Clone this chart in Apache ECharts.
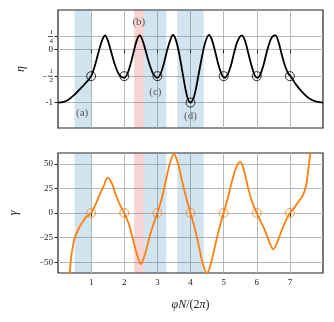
<!DOCTYPE html>
<html>
<head>
<meta charset="UTF-8">
<title>eta / gamma</title>
<script src="https://cdn.jsdelivr.net/npm/echarts@6/dist/echarts.min.js"></script>
<style>
  html, body { margin: 0; padding: 0; background: #fff; }
  #main { width: 334px; height: 322px; }
</style>
</head>
<body>
<div id="main"></div>
<script>
// eta curve (top panel)
var etaX = [0, 0.15, 0.3, 0.5, 0.7, 0.85, 1.0, 1.1, 1.2, 1.3, 1.36, 1.42, 1.5, 1.6, 1.7, 1.8, 1.9, 2.0,
  2.1, 2.2, 2.3, 2.38, 2.46, 2.55, 2.65, 2.75, 2.85, 2.95, 3.0,
  3.1, 3.2, 3.3, 3.4, 3.47, 3.55, 3.65, 3.75, 3.85, 3.93, 4.0,
  4.07, 4.15, 4.25, 4.35, 4.45, 4.56, 4.65, 4.75, 4.85, 4.95, 5.03,
  5.12, 5.22, 5.32, 5.42, 5.55, 5.65, 5.75, 5.85, 5.95, 6.02,
  6.1, 6.2, 6.3, 6.4, 6.48, 6.56, 6.65, 6.75, 6.85, 6.95, 7.02,
  7.1, 7.2, 7.34, 7.5, 7.64, 7.8, 8.0];
var etaY = [-1.0, -0.99, -0.95, -0.85, -0.72, -0.62, -0.5, -0.33, -0.1, 0.12, 0.22, 0.27, 0.18, -0.03, -0.25, -0.42, -0.51, -0.53,
  -0.45, -0.25, 0.0, 0.18, 0.27, 0.18, -0.03, -0.25, -0.43, -0.52, -0.53,
  -0.45, -0.25, 0.0, 0.2, 0.28, 0.2, -0.05, -0.4, -0.75, -0.95, -1.0,
  -0.95, -0.78, -0.45, -0.12, 0.15, 0.28, 0.18, -0.05, -0.3, -0.48, -0.53,
  -0.47, -0.3, -0.05, 0.16, 0.27, 0.16, -0.08, -0.32, -0.5, -0.53,
  -0.48, -0.3, -0.05, 0.16, 0.25, 0.27, 0.16, -0.08, -0.3, -0.45, -0.5,
  -0.58, -0.67, -0.78, -0.88, -0.94, -0.98, -1.0];

// gamma curve (bottom panel)
var gammaX = [0.3, 0.35, 0.4, 0.45, 0.5, 0.65, 0.75, 0.85, 1.0, 1.125, 1.25, 1.375, 1.5, 1.625, 1.75, 1.875, 2.0,
  2.125, 2.25, 2.375, 2.5, 2.625, 2.75, 2.875, 3.0, 3.125, 3.25, 3.375, 3.5, 3.625, 3.75, 3.875, 4.0,
  4.125, 4.25, 4.375, 4.5, 4.625, 4.75, 4.875, 5.0, 5.125, 5.25, 5.375, 5.5, 5.625, 5.75, 5.875, 6.0,
  6.125, 6.25, 6.375, 6.5, 6.625, 6.75, 6.875, 7.0, 7.125, 7.25, 7.375, 7.44, 7.5, 7.56, 7.62, 7.7];
var gammaY = [-80, -62, -44, -34, -26, -14, -9, -4, 0, 8, 18, 27, 36, 30, 18, 8, 0,
  -10, -25, -41, -52, -42, -26, -12, 0, 14, 32, 50, 60, 50, 32, 15, 0,
  -15, -33, -52, -61, -50, -32, -15, 0, 15, 32, 46, 52, 42, 24, 10, 0,
  -9, -18, -29, -37, -29, -18, -8, 0, 5, 11, 17, 22, 30, 45, 62, 90];

var nodeX = [1, 2, 3, 4, 5, 6, 7];
var nodeEta = [-0.5, -0.5, -0.5, -1, -0.5, -0.5, -0.5];
var nodeGamma = [0, 0, 0, 0, 0, 0, 0];

var blueBands = [[0.5, 1.0], [2.6, 3.27], [3.6, 4.4]];
var redBands = [[2.3, 2.6]];

var bandLabels = ['(a)', '(b)', '(c)', '(d)'];
var bandLabelX = [0.73, 2.44, 2.94, 4.0];
var bandLabelY = [-1.19, 0.53, -0.81, -1.25];

var xTicks = [1, 2, 3, 4, 5, 6, 7];
var etaTicks = [0.25, 0, -0.5, -1];
var gammaTicks = [-50, -25, 0, 25, 50];

var font = 'Liberation Serif';
var ink = '#222';
var gridCol = '#b8b8b8';

function zip(xs, ys) {
  return xs.map(function (x, i) { return [x, ys[i]]; });
}

var bands = [];
blueBands.forEach(function (b) {
  bands.push([{ xAxis: b[0], itemStyle: { color: 'rgba(31,119,180,0.2)' } }, { xAxis: b[1] }]);
});
redBands.forEach(function (b) {
  bands.push([{ xAxis: b[0], itemStyle: { color: 'rgba(214,39,40,0.2)' } }, { xAxis: b[1] }]);
});

function xAxisOpt(idx, showLabels, name) {
  return {
    type: 'value', gridIndex: idx, min: 0, max: 8,
    axisLine: { show: false },
    axisTick: { show: true, length: 3.5, customValues: xTicks, lineStyle: { color: ink } },
    axisLabel: { show: showLabels, customValues: xTicks, fontFamily: font, fontSize: 9, color: ink, margin: 5 },
    splitLine: { show: true, customValues: xTicks, lineStyle: { color: gridCol, width: 1 } },
    name: name || '', nameLocation: 'middle', nameGap: 26,
    nameTextStyle: {
      fontFamily: font, fontSize: 12, color: ink,
      rich: {
        i: { fontFamily: font, fontStyle: 'italic', fontSize: 12, color: ink },
        r: { fontFamily: font, fontSize: 12, color: ink }
      }
    }
  };
}

var fracRich = {
  n: { fontFamily: font, fontSize: 7, lineHeight: 7, color: ink, align: 'right' },
  b: { width: 5, height: 0.8, lineHeight: 2, backgroundColor: ink, align: 'right' },
  m: { fontFamily: font, fontSize: 9, lineHeight: 2, color: ink, padding: [0, 1, 0, 0] },
  t: { fontFamily: font, fontSize: 9, color: ink }
};

var option = {
  animation: false,
  backgroundColor: '#fff',
  grid: [
    { left: 58, right: 11, top: 10, height: 118, show: true, borderColor: ink, borderWidth: 1.2, backgroundColor: 'transparent', outerBoundsMode: 'none', containLabel: false },
    { left: 58, right: 11, top: 153, height: 120, show: true, borderColor: ink, borderWidth: 1.2, backgroundColor: 'transparent', outerBoundsMode: 'none', containLabel: false }
  ],
  xAxis: [
    xAxisOpt(0, false),
    xAxisOpt(1, true, '{i|φN}{r|/(2}{i|π}{r|)}')
  ],
  yAxis: [
    {
      type: 'value', gridIndex: 0, min: -1.48, max: 0.75,
      axisLine: { show: false },
      axisTick: { show: true, length: 3.5, customValues: etaTicks, lineStyle: { color: ink } },
      axisLabel: {
        customValues: etaTicks, margin: 5, fontFamily: font, fontSize: 9, color: ink, rich: fracRich,
        formatter: function (v) {
          if (Math.abs(v - 0.25) < 1e-6) return '{n|1}\n{b| }\n{n|4}';
          if (Math.abs(v + 0.5) < 1e-6) return '{n|1}\n{m|−}{b| }\n{n|2}';
          if (v === 0) return '{t|0}';
          return '{t|-1}';
        }
      },
      splitLine: { show: true, customValues: etaTicks, lineStyle: { color: gridCol, width: 1 } },
      name: 'η', nameLocation: 'middle', nameGap: 31, nameRotate: 90,
      nameTextStyle: { fontFamily: font, fontStyle: 'italic', fontSize: 12, color: ink }
    },
    {
      type: 'value', gridIndex: 1, min: -61, max: 61,
      axisLine: { show: false },
      axisTick: { show: true, length: 3.5, customValues: gammaTicks, lineStyle: { color: ink } },
      axisLabel: {
        customValues: gammaTicks, margin: 5, fontFamily: font, fontSize: 9, color: ink,
        formatter: function (v) { return v < 0 ? '−' + Math.abs(v) : String(v); }
      },
      splitLine: { show: true, customValues: gammaTicks, lineStyle: { color: gridCol, width: 1 } },
      name: 'γ', nameLocation: 'middle', nameGap: 38, nameRotate: 90,
      nameTextStyle: { fontFamily: font, fontStyle: 'italic', fontSize: 12, color: ink }
    }
  ],
  series: [
    {
      type: 'line', xAxisIndex: 0, yAxisIndex: 0, data: zip(etaX, etaY),
      smooth: 0.35, showSymbol: false, lineStyle: { color: '#000', width: 1.8 },
      markArea: { silent: true, data: bands }, z: 3
    },
    {
      type: 'scatter', xAxisIndex: 0, yAxisIndex: 0, data: zip(nodeX, nodeEta),
      symbol: 'circle', symbolSize: 9,
      itemStyle: { color: 'transparent', borderColor: '#000', borderWidth: 1 }, z: 4
    },
    {
      type: 'scatter', xAxisIndex: 0, yAxisIndex: 0, symbolSize: 0,
      data: bandLabels.map(function (t, i) { return { name: t, value: [bandLabelX[i], bandLabelY[i]] }; }),
      label: { show: true, position: 'inside', formatter: '{b}', fontFamily: font, fontSize: 11, color: '#333' }, z: 5
    },
    {
      type: 'line', xAxisIndex: 1, yAxisIndex: 1, data: zip(gammaX, gammaY),
      smooth: 0.35, showSymbol: false, lineStyle: { color: '#ff7f0e', width: 1.8 },
      markArea: { silent: true, data: bands }, z: 3
    },
    {
      type: 'scatter', xAxisIndex: 1, yAxisIndex: 1, data: zip(nodeX, nodeGamma),
      symbol: 'circle', symbolSize: 9,
      itemStyle: { color: 'transparent', borderColor: '#ff7f0e', borderWidth: 1 }, z: 4
    }
  ]
};

var myChart = echarts.init(document.getElementById('main'));
myChart.setOption(option);
</script>
</body>
</html>
